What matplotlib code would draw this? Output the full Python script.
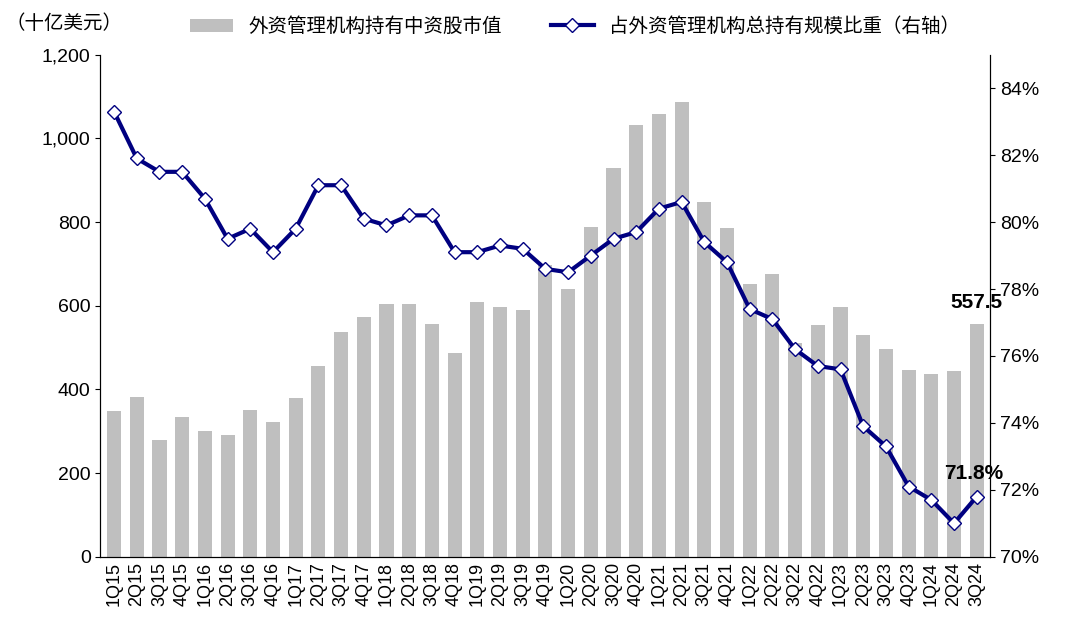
import matplotlib.pyplot as plt
from matplotlib import font_manager
import numpy as np

# pick whatever CJK font is actually registered
cjk = [f.name for f in font_manager.fontManager.ttflist if 'CJK' in f.name]
plt.rcParams['font.family'] = ['Liberation Sans'] + sorted(set(cjk)) + ['DejaVu Sans']

quarters = [f"{q}Q{y}" for y in range(15, 25) for q in range(1, 5)][:39]
market_value = [349, 383, 280, 333, 301, 292, 352, 323, 380, 455, 538, 572,
                603, 605, 557, 486, 610, 598, 589, 698, 641, 787, 928, 1033,
                1057, 1086, 847, 785, 653, 677, 510, 555, 597, 530, 496, 446,
                436, 443, 557.5]
share = [83.3, 81.9, 81.5, 81.5, 80.7, 79.5, 79.8, 79.1, 79.8, 81.1, 81.1, 80.1,
         79.9, 80.2, 80.2, 79.1, 79.1, 79.3, 79.2, 78.6, 78.5, 79.0, 79.5, 79.7,
         80.4, 80.6, 79.4, 78.8, 77.4, 77.1, 76.2, 75.7, 75.6, 73.9, 73.3, 72.1,
         71.7, 71.0, 71.8]

fig = plt.figure(figsize=(10.8, 6.43), dpi=100)
ax = fig.add_axes([0.093, 0.134, 0.824, 0.781])
x = np.arange(len(quarters))
bars = ax.bar(x, market_value, width=0.62, color='#bfbfbf', label='外资管理机构持有中资股市值')
ax.set_ylim(0, 1200)
ax.set_yticks(range(0, 1201, 200))
ax.set_yticklabels([f"{v:,}" for v in range(0, 1201, 200)], fontsize=14)
ax.set_xlim(-0.6, len(quarters) - 0.4)
ax.set_xticks(x)
ax.set_xticklabels(quarters, rotation=90, fontsize=13)
ax.spines['top'].set_visible(False)
ax.tick_params(axis='x', length=0)

ax2 = ax.twinx()
line, = ax2.plot(x, share, color='#000080', lw=3, marker='D', ms=7,
                 mfc='white', mec='#000080', mew=1, label='占外资管理机构总持有规模比重（右轴）')
ax2.set_ylim(70, 85)
ax2.set_yticks(range(70, 85, 2))
ax2.set_yticklabels([f"{v}%" for v in range(70, 85, 2)], fontsize=14)
ax2.spines['top'].set_visible(False)

ax.annotate(f"{market_value[-1]}", (x[-1], market_value[-1]), xytext=(0, 8),
            textcoords='offset points', ha='center', va='bottom', fontsize=15, fontweight='bold')
ax2.annotate(f"{share[-1]}%", (x[-1], share[-1]), xytext=(-2, 10),
             textcoords='offset points', ha='center', va='bottom', fontsize=15, fontweight='bold')

fig.text(0.005, 0.955, '（十亿美元）', fontsize=14)
fig.legend([bars, line], [bars.get_label(), line.get_label()], loc='upper left',
           bbox_to_anchor=(0.16, 1.0), ncol=2, frameon=False, fontsize=14,
           handlelength=2.2, columnspacing=2.5)

fig.savefig('out.png', dpi=100)
